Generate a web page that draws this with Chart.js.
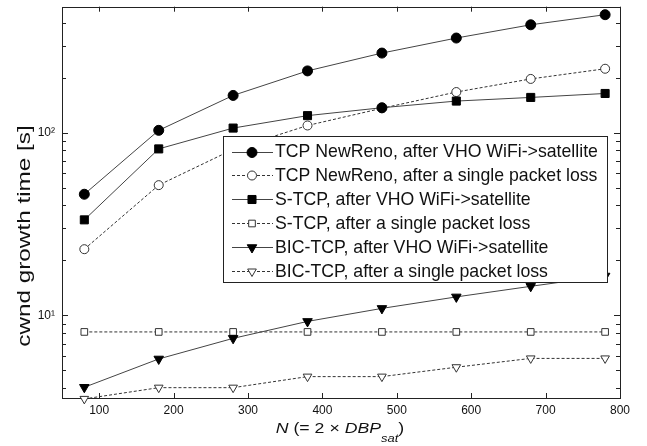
<!DOCTYPE html>
<html>
<head>
<meta charset="utf-8">
<script src="https://cdn.jsdelivr.net/npm/chart.js@4.4.0/dist/chart.umd.min.js"></script>
<style>
  html, body { margin: 0; padding: 0; background: #fff; }
  #wrap { width: 647px; height: 446px; }
</style>
</head>
<body>
<div id="wrap"><canvas id="chart" width="647" height="446"></canvas></div>
<script>
// N (= 2 x DBP_sat)
var nValues = [80, 180, 280, 380, 480, 580, 680, 780]

// cwnd growth time [s]
var renoVho  = [46, 103, 160, 218, 273, 330, 390, 443]
var renoLoss = [23, 51.6, 81, 109.5, 136, 167, 197, 224]
var stcpVho  = [33.3, 81.5, 106, 124, 137, 149, 156, 164]
var stcpLoss = [8.1, 8.1, 8.1, 8.1, 8.1, 8.1, 8.1, 8.1]
var bicVho   = [4.03, 5.76, 7.47, 9.25, 10.9, 12.6, 14.4, 16.4]
var bicLoss  = [3.48, 4.01, 4.01, 4.61, 4.61, 5.19, 5.8, 5.8]

var seriesNames = [
  'TCP NewReno, after VHO WiFi->satellite',
  'TCP NewReno, after a single packet loss',
  'S-TCP, after VHO WiFi->satellite',
  'S-TCP, after a single packet loss',
  'BIC-TCP, after VHO WiFi->satellite',
  'BIC-TCP, after a single packet loss'
]
var seriesValues = [renoVho, renoLoss, stcpVho, stcpLoss, bicVho, bicLoss]

var xTicks = [100, 200, 300, 400, 500, 600, 700, 800]
var yTicks = [10, 100]
var yTickLabels = ['10\u00b9', '10\u00b2']

var FONT = "'Liberation Sans', Arial, Helvetica, sans-serif"

// marker / line look of each series
var looks = [
  { style: 'circle',   r: 5,   rot: 0,   fill: '#000', edge: '#000', dash: [] },
  { style: 'circle',   r: 4.5, rot: 0,   fill: '#fff', edge: '#333', dash: [3, 2] },
  { style: 'rect',     r: 5.7, rot: 0,   fill: '#000', edge: '#000', dash: [] },
  { style: 'rect',     r: 4.7, rot: 0,   fill: '#fff', edge: '#333', dash: [3, 2] },
  { style: 'triangle', r: 5.5, rot: 180, fill: '#000', edge: '#000', dash: [] },
  { style: 'triangle', r: 5,   rot: 180, fill: '#fff', edge: '#333', dash: [3, 2] }
]

function toPoints (vals) {
  return vals.map(function (v, i) { return { x: nValues[i], y: v } })
}

var datasets = seriesValues.map(function (vals, i) {
  var lk = looks[i]
  return {
    label: seriesNames[i],
    data: toPoints(vals),
    borderColor: lk.dash.length ? '#333' : '#444',
    borderWidth: 1,
    borderDash: lk.dash,
    pointStyle: lk.style,
    pointRadius: lk.r,
    pointRotation: lk.rot,
    pointBackgroundColor: lk.fill,
    pointBorderColor: lk.edge,
    pointBorderWidth: 1,
    tension: 0,
    clip: false,
    order: -i   // later series drawn on top, like the original
  }
})
// in the original the S-TCP marker at N=480 is printed as a filled circle
datasets[2].pointStyle = function (c) { return c.dataIndex === 4 ? 'circle' : 'rect' }
datasets[2].pointRadius = function (c) { return c.dataIndex === 4 ? 5 : 5.7 }

function drawMarker (ctx, lk, x, y) {
  ctx.save()
  ctx.fillStyle = lk.fill
  ctx.strokeStyle = lk.edge
  ctx.lineWidth = 1
  ctx.setLineDash([])
  if (Chart.helpers && Chart.helpers.drawPoint) {
    Chart.helpers.drawPoint(ctx, { pointStyle: lk.style, radius: lk.r, rotation: lk.rot, borderWidth: 1 }, x, y)
  }
  ctx.restore()
}

// box with inward ticks on all four sides
var axesBox = {
  id: 'axesBox',
  beforeDatasetsDraw: function (chart) {
    var ctx = chart.ctx, a = chart.chartArea
    var xs = chart.scales.x, ys = chart.scales.y
    ctx.save()
    ctx.strokeStyle = '#222'
    ctx.lineWidth = 1
    ctx.beginPath()
    xTicks.forEach(function (v) {
      var px = Math.round(xs.getPixelForValue(v)) + 0.5
      ctx.moveTo(px, a.bottom); ctx.lineTo(px, a.bottom - 5)
      ctx.moveTo(px, a.top); ctx.lineTo(px, a.top + 5)
    })
    var dec, k
    for (dec = 1; dec <= 100; dec *= 10) {
      for (k = 1; k <= 9; k++) {
        var v = k * dec
        if (v < ys.min || v > ys.max) continue
        var len = (k === 1) ? 6 : 4
        var py = Math.round(ys.getPixelForValue(v)) + 0.5
        ctx.moveTo(a.left, py); ctx.lineTo(a.left + len, py)
        ctx.moveTo(a.right, py); ctx.lineTo(a.right - len, py)
      }
    }
    ctx.stroke()
    ctx.strokeRect(Math.round(a.left) + 0.5, Math.round(a.top) + 0.5,
      Math.round(a.right - a.left), Math.round(a.bottom - a.top))
    ctx.restore()
  },
  afterDraw: function (chart) {
    var ctx = chart.ctx, a = chart.chartArea
    ctx.save()
    ctx.fillStyle = '#111'
    // y title, glyphs stretched along the text like in the print
    ctx.translate(30, 236)
    ctx.rotate(-Math.PI / 2)
    ctx.scale(1.35, 1)
    ctx.font = '18px ' + FONT
    ctx.textAlign = 'center'
    ctx.textBaseline = 'alphabetic'
    ctx.fillText('cwnd growth time [s]', 0, 0)
    ctx.restore()

    // x title: N (= 2 x DBP_sat)
    var parts = [
      { t: 'N', f: 'italic 15px ' + FONT, dy: 0 },
      { t: ' (= 2 \u00d7 ', f: '15px ' + FONT, dy: 0 },
      { t: 'DBP', f: 'italic 15px ' + FONT, dy: 0 },
      { t: 'sat', f: 'italic 11px ' + FONT, dy: 8.5 },
      { t: ')', f: '15px ' + FONT, dy: 0 }
    ]
    var sx = 1.18
    ctx.save()
    var total = 0
    parts.forEach(function (p) { ctx.font = p.f; p.w = ctx.measureText(p.t).width; total += p.w })
    var cx = (a.left + a.right) / 2 - 1
    ctx.translate(cx - total * sx / 2, 433)
    ctx.scale(sx, 1)
    ctx.fillStyle = '#111'
    ctx.textBaseline = 'alphabetic'
    var x = 0
    parts.forEach(function (p) {
      ctx.font = p.f
      ctx.fillText(p.t, x, p.dy)
      x += p.w
    })
    ctx.restore()
  }
}

// legend box inside the axes
var boxLegend = {
  id: 'boxLegend',
  afterDatasetsDraw: function (chart) {
    var ctx = chart.ctx
    var x0 = 223, y0 = 136, w = 384, h = 146
    ctx.save()
    ctx.fillStyle = '#fff'
    ctx.fillRect(x0, y0, w, h)
    ctx.strokeStyle = '#222'
    ctx.lineWidth = 1
    ctx.strokeRect(x0 + 0.5, y0 + 0.5, w, h)
    ctx.font = '17.7px ' + FONT
    ctx.textBaseline = 'middle'
    seriesNames.forEach(function (name, i) {
      var lk = looks[i]
      var y = y0 + 15.5 + i * 23.9
      ctx.strokeStyle = lk.dash.length ? '#333' : '#444'
      ctx.setLineDash(lk.dash)
      ctx.beginPath()
      ctx.moveTo(x0 + 9, Math.round(y) + 0.5)
      ctx.lineTo(x0 + 50, Math.round(y) + 0.5)
      ctx.stroke()
      ctx.setLineDash([])
      drawMarker(ctx, lk, x0 + 29, Math.round(y) + 0.5)
      ctx.fillStyle = '#111'
      ctx.fillText(name, x0 + 52, y + 1)
    })
    ctx.restore()
  }
}

var chart = new Chart(document.getElementById('chart'), {
  type: 'line',
  data: { datasets: datasets },
  options: {
    responsive: false,
    animation: false,
    devicePixelRatio: 1,
    layout: { padding: { left: 0, right: 27, top: 6, bottom: 0 } },
    plugins: {
      legend: { display: false },
      tooltip: { enabled: false }
    },
    scales: {
      x: {
        type: 'linear',
        min: 50,
        max: 800,
        grid: { display: false, drawTicks: false },
        border: { display: false },
        ticks: { font: { size: 12, family: FONT }, color: '#111', padding: 5, maxRotation: 0, autoSkip: false },
        afterBuildTicks: function (s) { s.ticks = xTicks.map(function (v) { return { value: v } }) },
        afterFit: function (s) { s.height = 48; s.paddingLeft = 0; s.paddingRight = 0 }
      },
      y: {
        type: 'logarithmic',
        min: 3.52,
        max: 490,
        grid: { display: false, drawTicks: false },
        border: { display: false },
        ticks: {
          font: { size: 12, family: FONT },
          color: '#111',
          padding: 7,
          autoSkip: false,
          callback: function (v) {
            var i = yTicks.indexOf(v)
            return i >= 0 ? yTickLabels[i] : ''
          }
        },
        afterBuildTicks: function (s) { s.ticks = yTicks.map(function (v) { return { value: v } }) },
        afterFit: function (s) { s.width = 62; s.paddingTop = 0; s.paddingBottom = 0 }
      }
    }
  },
  plugins: [axesBox, boxLegend]
})
</script>
</body>
</html>
